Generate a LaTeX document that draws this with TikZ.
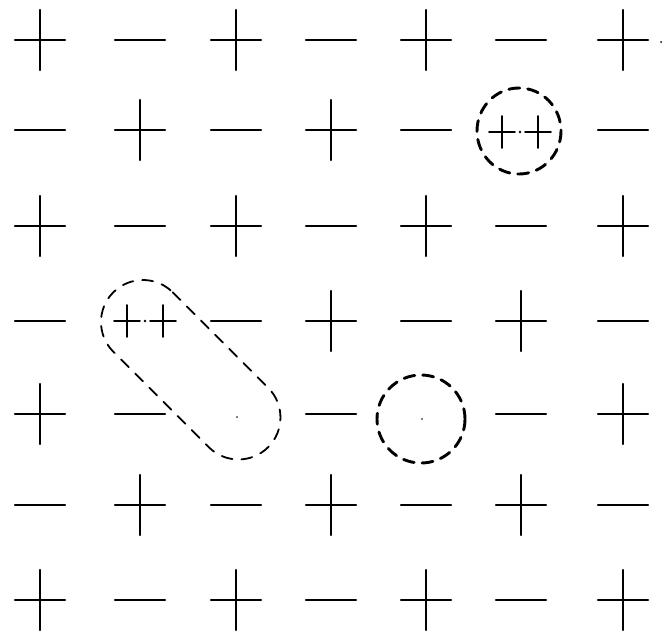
\documentclass[tikz,border=0pt]{standalone}
\tikzset{
  sign/.style={line width=2.4pt, line cap=round, black},
  pplus/.pic={\draw[sign] (-25pt,0)--(25pt,0) (0,-30pt)--(0,30pt);},
  mminus/.pic={\draw[sign] (-25pt,0)--(25pt,0);},
  smallplus/.pic={\draw[sign, line width=1.9pt] (-13pt,0)--(13pt,0) (0,-16pt)--(0,16pt);},
  ring/.style={line width=2.9pt, dash pattern=on 11pt off 8pt, line cap=round},
  loopline/.style={line width=1.8pt, dash pattern=on 11pt off 9pt, line cap=round},
}
\begin{document}
\begin{tikzpicture}[x=1pt,y=-1pt]
\useasboundingbox (0,0) rectangle (664,635);
% grid coordinates
\def\xs{{40,140,236,331,426,521,623}}
\def\ys{{40,130,226,321,414,505,600}}
% rows: P = plus, M = minus
\foreach \r/\row in {0/{P,M,P,M,P,M,P},1/{M,P,M,P,M,X,M},2/{P,M,P,M,P,M,P},3/{M,X,M,P,M,P,M},4/{P,M,X,M,X,M,P},5/{M,P,M,P,M,P,M},6/{P,M,P,M,P,M,P}}{
  \foreach \s [count=\c from 0] in \row {
    \pgfmathsetmacro{\px}{\xs[\c]}
    \pgfmathsetmacro{\py}{\ys[\r]}
    \if P\s \pic at (\px,\py) {pplus};\fi
    \if M\s \pic at (\px,\py) {mminus};\fi
  }
}
% interstitial pair, top right
\pic at (502,132) {smallplus};
\pic at (538,132) {smallplus};
\fill (520,132) circle (1.4pt);
\draw[ring] (519,131) ellipse [x radius=42, y radius=43];
% interstitial pair, left, in the elongated loop
\pic at (127,321) {smallplus};
\pic at (163,321) {smallplus};
\fill (145,321) circle (1.4pt);
% vacancy circle
\draw[ring] (421,419) circle (44);
\fill (422,419) circle (0.8pt);
\fill (237,417) circle (0.8pt);
\fill (661,42) circle (1pt);
% elongated dashed loop
\begin{scope}[shift={(143,322)}, rotate=-45]
  \draw[loopline] (0,-42) -- (135,-42) arc[start angle=-90, end angle=90, radius=42] -- (0,42) arc[start angle=90, end angle=270, radius=42] -- cycle;
\end{scope}
\end{tikzpicture}
\end{document}
